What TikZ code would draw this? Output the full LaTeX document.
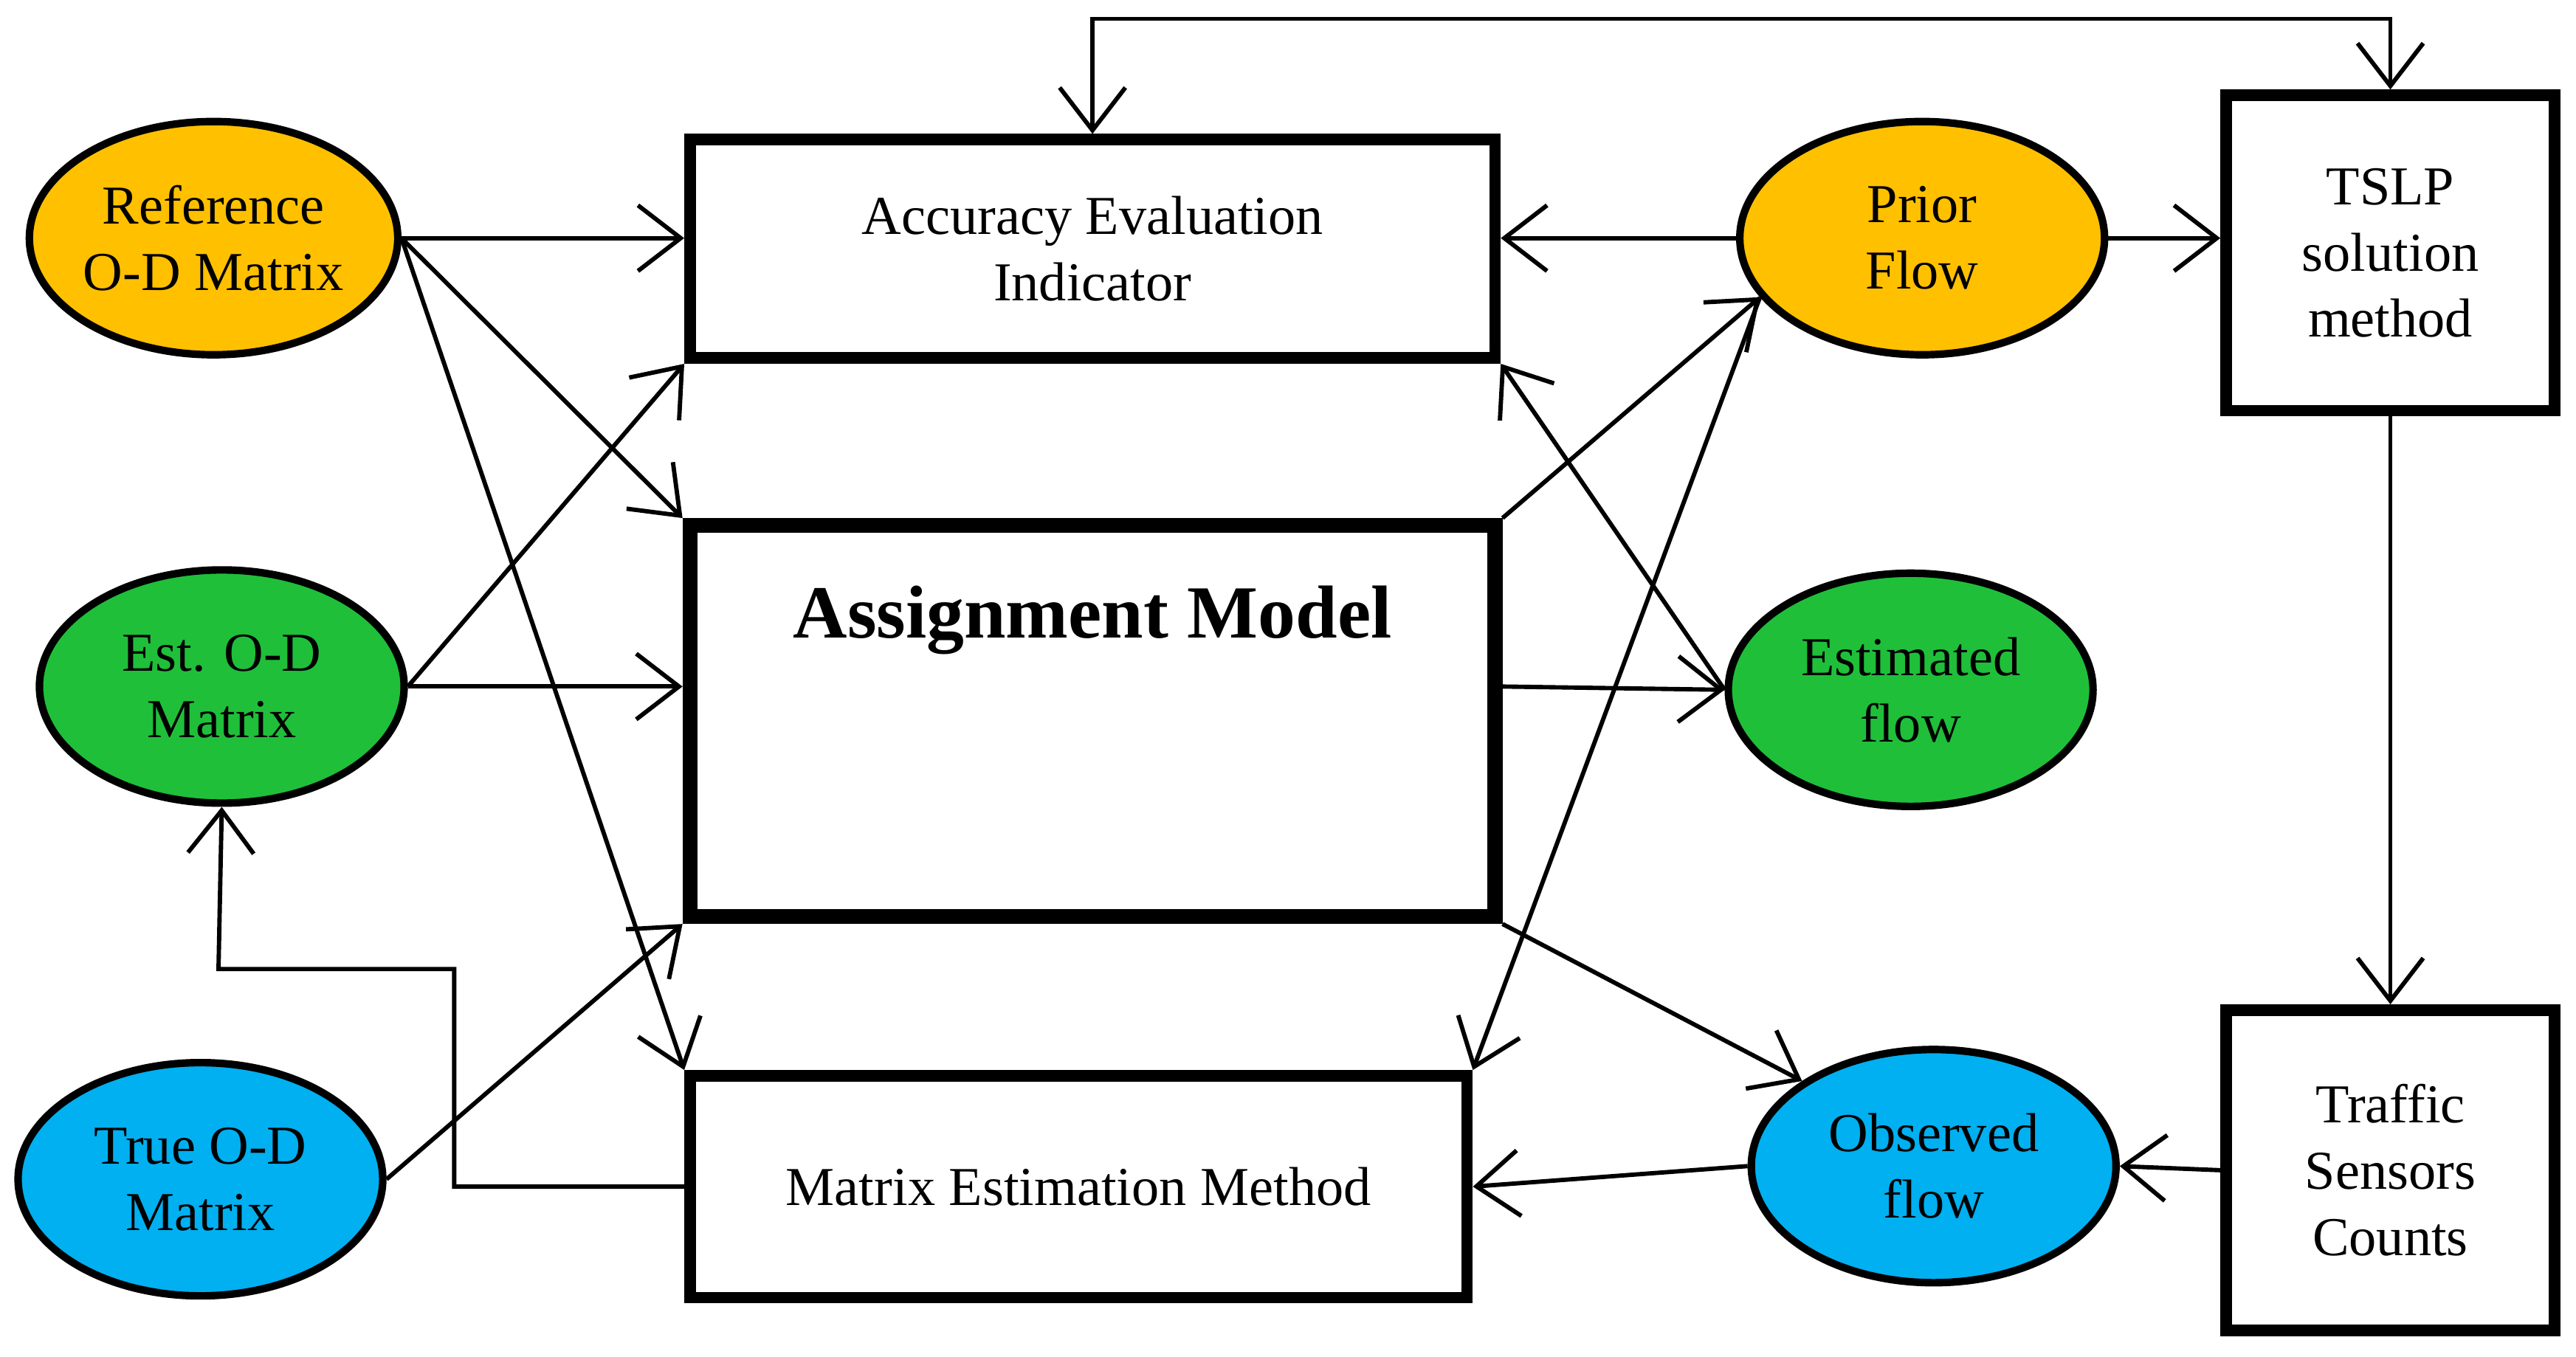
\documentclass[tikz,border=0pt]{standalone}
\usepackage{fontspec}
\setmainfont{Liberation Serif}
\usetikzlibrary{arrows.meta,shapes.geometric,positioning}
\definecolor{orng}{HTML}{FFC000}
\definecolor{grn}{HTML}{1FBF3A}
\definecolor{blu}{HTML}{00B0F0}
\begin{document}
\begin{tikzpicture}[->,>={Straight Barb[length=2.6mm,width=4mm]},line width=0.75pt,
  font=\fontsize{9.5}{11.5}\selectfont,
  oval/.style={ellipse,draw,line width=1.3pt,minimum width=2.22cm,minimum height=1.42cm,align=center,inner sep=0pt},
  block/.style={rectangle,draw,line width=2pt,align=center}]

  \useasboundingbox (0,0) rectangle (15.68,-8.26);

  % left ovals
  \node[oval,fill=orng] (ref) at (1.30,-1.45) {Reference\\O-D Matrix};
  \node[oval,fill=grn] (est) at (1.35,-4.18) {Est. O-D\\Matrix};
  \node[oval,fill=blu] (true) at (1.22,-7.18) {True O-D\\Matrix};

  % middle boxes
  \node[block,minimum width=4.9cm,minimum height=1.33cm] (acc) at (6.65,-1.515) {Accuracy Evaluation\\Indicator};
  \node[block,line width=2.6pt,minimum width=4.9cm,minimum height=2.38cm,font=\fontsize{13}{15}\selectfont\bfseries] (asg) at (6.65,-4.39) {Assignment Model\\[0.8cm]};
  \node[block,minimum width=4.73cm,minimum height=1.35cm] (mat) at (6.565,-7.225) {Matrix Estimation Method};

  % right ovals
  \node[oval,fill=orng] (prior) at (11.70,-1.45) {Prior\\Flow};
  \node[oval,fill=grn] (estf) at (11.63,-4.20) {Estimated\\flow};
  \node[oval,fill=blu] (obs) at (11.77,-7.10) {Observed\\flow};

  % right boxes
  \node[block,minimum width=2cm,minimum height=1.92cm] (tslp) at (14.55,-1.54) {TSLP\\solution\\method};
  \node[block,minimum width=2cm,minimum height=1.95cm] (sens) at (14.55,-7.125) {Traffic\\Sensors\\Counts};

  % connectors
  \draw (ref.east) -- (ref.east -| acc.west);
  \draw (ref.east) -- (asg.north west);
  \draw (ref.east) -- (mat.north west);
  \draw (est.east) -- (acc.south west);
  \draw (est.east) -- (est.east -| asg.west);
  \draw (true.east) -- (asg.south west);
  \draw (mat.west) -- ++(-1.4,0) |- (1.33,-5.9) -- (est.south);
  \draw (prior.west) -- (prior.west -| acc.east);
  \draw (asg.north east) -- (prior.200);
  \draw (prior.200) -- (mat.north east);
  \draw (estf.west) -- (acc.south east);
  \draw (asg.east |- est.east) -- (estf.west);
  \draw (asg.south east) -- (obs.north west);
  \draw (obs.west) -- (mat.east);
  \draw (sens.west) -- (obs.east);
  \draw (tslp.south) -- (sens.north);
  \draw (prior.east) -- (prior.east -| tslp.west);
  \draw[<->] (acc.north) -- ++(0,0.7) -| (tslp.north);

\end{tikzpicture}
\end{document}
